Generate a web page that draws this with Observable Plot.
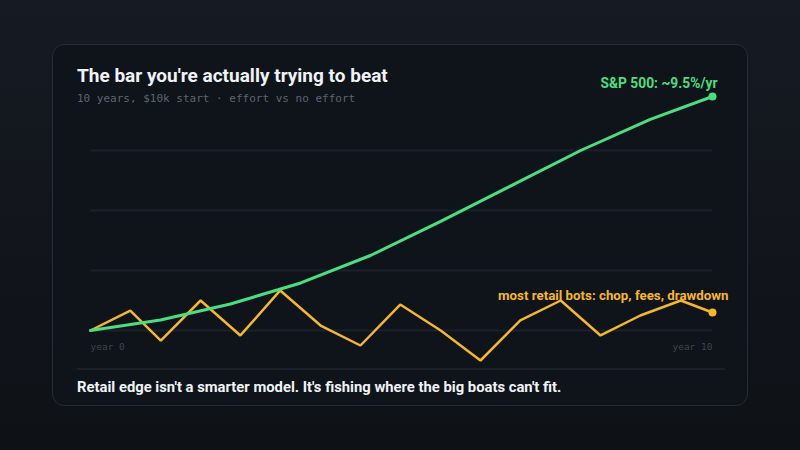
<!DOCTYPE html>
<html>
<head>
<meta charset="utf-8">
<script src="https://cdn.jsdelivr.net/npm/d3@7"></script>
<script src="https://cdn.jsdelivr.net/npm/@observablehq/plot@0.6"></script>
<style>
  html, body { margin: 0; padding: 0; }
  body {
    width: 800px; height: 450px; overflow: hidden; position: relative;
    background: linear-gradient(180deg, #161a22 0%, #0e1116 100%);
    font-family: Roboto, "Noto Sans", sans-serif;
  }
  .card {
    position: absolute; left: 52px; top: 44px; width: 694px; height: 360px;
    border: 1px solid #262c36; border-radius: 12px; background: #0f131a;
  }
  .title {
    position: absolute; left: 24px; top: 19px; margin: 0;
    font-size: 19px; font-weight: 700; color: #f0f3f6; white-space: nowrap;
  }
  .subtitle {
    position: absolute; left: 24px; top: 47px;
    font-family: "DejaVu Sans Mono", monospace; font-size: 11px; color: #5c6573; white-space: nowrap;
  }
  .divider {
    position: absolute; left: 24px; top: 323px; width: 648px; height: 2px; background: #1b2029;
  }
  .caption {
    position: absolute; left: 24px; top: 333px;
    font-size: 14.8px; font-weight: 700; color: #f0f3f6; white-space: nowrap;
  }
  #chart { position: absolute; left: 0; top: 0; }
</style>
</head>
<body>
<div class="card">
  <div class="title">The bar you're actually trying to beat</div>
  <div class="subtitle">10 years, $10k start · effort vs no effort</div>
  <div class="divider"></div>
  <div class="caption">Retail edge isn't a smarter model. It's fishing where the big boats can't fit.</div>
</div>
<div id="chart"></div>
<script>
// S&P 500 path (years, value in $k)
const spYears  = [0, 1.125, 2.25, 3.38, 4.5, 5.63, 6.75, 7.88, 9.0, 10];
const spValues = [10, 10.7, 11.77, 13.17, 15, 17.27, 19.63, 22, 24.07, 25.6];
// Typical retail bot path
const botYears  = [0, 0.64, 1.13, 1.77, 2.41, 3.05, 3.7, 4.34, 4.98, 5.63, 6.27, 6.91, 7.56, 8.2, 8.84, 9.49, 10];
const botValues = [10, 11.33, 9.33, 12, 9.67, 12.67, 10.33, 9, 11.73, 10, 8, 10.67, 12, 9.67, 11, 12, 11.2];
// Grid values and axis labels
const gridValues = [10, 14, 18, 22];
const axisYears  = [0, 10];
const axisLabels = ["year 0", "year 10"];
const spLabel  = "S&P 500: ~9.5%/yr";
const botLabel = "most retail bots: chop, fees, drawdown";

const sp  = spYears.map((x, i) => ({x, y: spValues[i]}));
const bot = botYears.map((x, i) => ({x, y: botValues[i]}));
const green = "#4ade80", amber = "#f5b82a";
const font = "Roboto, 'Noto Sans', sans-serif";
const mono = "'DejaVu Sans Mono', monospace";

const chart = Plot.plot({
  width: 800, height: 450,
  marginLeft: 90, marginRight: 88, marginTop: 90, marginBottom: 90,
  x: {domain: [0, 10], axis: null},
  y: {domain: [8, 26], axis: null},
  style: {background: "transparent", overflow: "visible"},
  marks: [
    Plot.ruleY(gridValues, {stroke: "#1b212a", strokeWidth: 2}),
    Plot.line(bot, {x: "x", y: "y", stroke: amber, strokeWidth: 2.5, strokeLinejoin: "miter"}),
    Plot.line(sp, {x: "x", y: "y", stroke: green, strokeWidth: 3}),
    Plot.dot([sp[sp.length - 1]], {x: "x", y: "y", r: 4, fill: green}),
    Plot.dot([bot[bot.length - 1]], {x: "x", y: "y", r: 4, fill: amber}),
    Plot.text([sp[sp.length - 1]], {x: "x", y: "y", text: () => spLabel, textAnchor: "end", dx: 5, dy: -13,
      fill: green, fontSize: 13.8, fontWeight: 700, fontFamily: font}),
    Plot.text([bot[bot.length - 1]], {x: "x", y: "y", text: () => botLabel, textAnchor: "end", dx: 16, dy: -17,
      fill: amber, fontSize: 13.3, fontWeight: 700, fontFamily: font}),
    Plot.text([axisYears[0]], {x: d => d, text: () => axisLabels[0], frameAnchor: "bottom", dy: -11,
      textAnchor: "start", fill: "#3d4553", fontSize: 9.5, fontFamily: mono}),
    Plot.text([axisYears[1]], {x: d => d, text: () => axisLabels[1], frameAnchor: "bottom", dy: -11,
      textAnchor: "end", fill: "#3d4553", fontSize: 9.5, fontFamily: mono})
  ]
});
document.getElementById("chart").appendChild(chart);
</script>
</body>
</html>
